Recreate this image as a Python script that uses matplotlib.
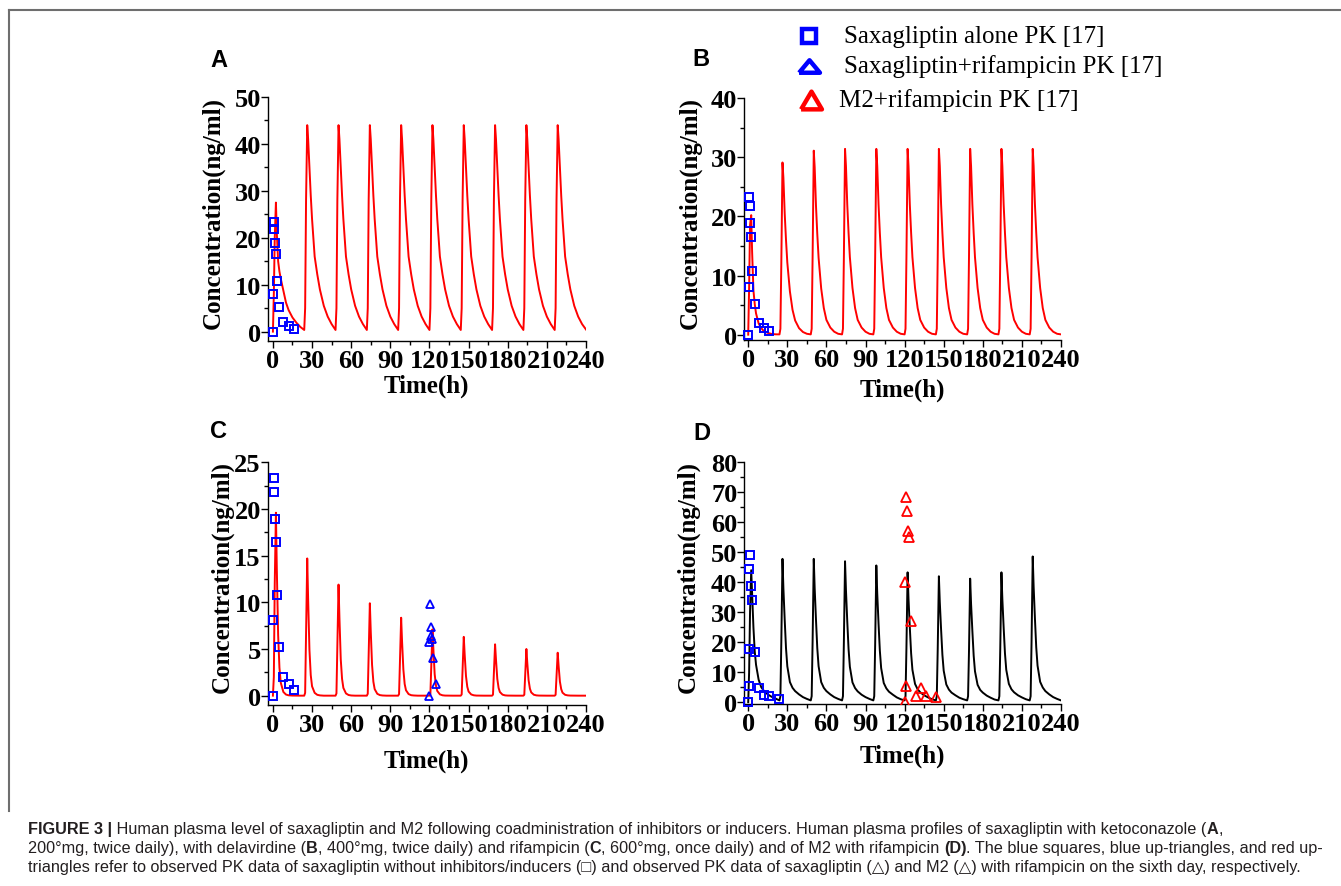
import matplotlib
matplotlib.use('Agg')
import matplotlib.pyplot as plt
from matplotlib.ticker import MultipleLocator
from matplotlib.lines import Line2D
from matplotlib.path import Path
import numpy as np

plt.rcParams['font.family'] = ['Liberation Serif', 'DejaVu Serif']
plt.rcParams['font.weight'] = 'bold'

W, H = 1341, 887

# ---- data ----
dose_times = [0, 24, 48, 72, 96, 120, 144, 168, 192, 216]
rel_t = [0, 0.7, 1.4, 2.3, 3, 4, 5, 6, 8, 10, 12, 15, 18, 21]

# A: ketoconazole
A_first = [0, 8, 20, 27.5, 21, 15, 12.8, 11.3, 8.8, 6.2, 4.6, 3.0, 1.9, 1.0]
A_steady = [0.35, 5, 28, 44, 41, 35, 29, 24, 16, 12.2, 9.0, 5.5, 3.2, 1.6]
A_rows = [A_first] + [A_steady] * 9
A_end = 0.45

# B: delavirdine
B_rows = [
    [0, 8, 18.5, 20.2, 14, 7.5, 5.2, 3.6, 1.9, 1.1, 0.6, 0.3, 0.12, 0.06],
    [0.05, 1, 12, 29.1, 26.5, 20.5, 16, 12.2, 7.3, 4.2, 2.4, 1.1, 0.45, 0.15],
    [0.05, 1, 13, 31.1, 28.3, 21.8, 17, 13, 7.8, 4.5, 2.5, 1.2, 0.5, 0.15],
] + [[0.05, 1, 13, 31.4, 28.5, 22, 17.2, 13.1, 7.9, 4.5, 2.5, 1.2, 0.5, 0.15]] * 7
B_end = 0.05

# C: rifampicin, saxagliptin
C_rows = [
    [0, 2, 12, 19.6, 13.5, 6.5, 3.0, 1.4, 0.4, 0.12, 0.04, 0.01, 0, 0],
    [0, 0.3, 6.6, 14.7, 10.3, 4.9, 2.2, 1.0, 0.3, 0.09, 0.03, 0, 0, 0],
    [0, 0.24, 5.4, 11.9, 8.3, 3.9, 1.8, 0.83, 0.24, 0.07, 0.02, 0, 0, 0],
    [0, 0.2, 4.5, 9.9, 6.9, 3.3, 1.5, 0.7, 0.2, 0.06, 0.02, 0, 0, 0],
    [0, 0.17, 3.8, 8.35, 5.8, 2.8, 1.25, 0.58, 0.17, 0.05, 0.02, 0, 0, 0],
    [0, 0.14, 3.2, 7.1, 5.0, 2.3, 1.07, 0.5, 0.14, 0.04, 0.01, 0, 0, 0],
    [0, 0.13, 2.8, 6.3, 4.4, 2.1, 0.95, 0.44, 0.13, 0.04, 0.01, 0, 0, 0],
    [0, 0.11, 2.5, 5.5, 3.85, 1.8, 0.83, 0.39, 0.11, 0.03, 0.01, 0, 0, 0],
    [0, 0.1, 2.25, 5.0, 3.5, 1.65, 0.75, 0.35, 0.1, 0.03, 0.01, 0, 0, 0],
    [0, 0.09, 2.1, 4.6, 3.2, 1.5, 0.7, 0.32, 0.09, 0.03, 0.01, 0, 0, 0],
]
C_end = 0

# D: rifampicin, M2
D_rows = [
    [0, 10, 30, 44, 36, 25, 17, 12.5, 7.5, 5.0, 3.8, 2.6, 1.8, 1.2],
    [0.6, 2, 20, 47.8, 38, 27.5, 18, 12, 6.7, 4.8, 3.7, 2.6, 1.7, 1.1],
    [0.6, 2, 20, 47.8, 38, 27.5, 18, 12, 6.7, 4.8, 3.7, 2.6, 1.7, 1.1],
    [0.6, 2, 20, 47.0, 37.4, 27, 17.7, 11.8, 6.6, 4.7, 3.6, 2.5, 1.7, 1.1],
    [0.6, 2, 19, 45.6, 36.3, 26.2, 17.2, 11.4, 6.4, 4.6, 3.5, 2.5, 1.6, 1.0],
    [0.6, 2, 18, 43.3, 34.4, 24.9, 16.3, 10.8, 6.1, 4.3, 3.3, 2.3, 1.6, 1.0],
    [0.6, 2, 17.5, 42.0, 33.4, 24.2, 15.8, 10.5, 5.9, 4.2, 3.2, 2.3, 1.5, 1.0],
    [0.6, 2, 17, 41.2, 32.8, 23.7, 15.5, 10.3, 5.8, 4.1, 3.2, 2.2, 1.5, 0.9],
    [0.6, 2, 18, 43.3, 34.4, 24.9, 16.3, 10.8, 6.1, 4.3, 3.3, 2.3, 1.6, 1.0],
    [0.6, 2, 20, 48.6, 38.6, 27.9, 18.3, 12.2, 6.8, 4.9, 3.7, 2.6, 1.7, 1.1],
]
D_end = 0.6

# observed data
sax_t = [0, 0.25, 0.5, 1, 1.5, 2, 3, 5, 8, 12, 16]
sax_c = [0, 8.1, 23.3, 21.8, 18.9, 16.5, 10.8, 5.2, 2.05, 1.2, 0.6]
saxrif_t = [119.5, 119.7, 120.5, 121, 121.3, 122.2, 123, 125]
saxrif_c = [0, 5.8, 9.85, 7.35, 6.35, 6.1, 4.0, 1.2]
m2_t = [0, 0.25, 0.4, 0.75, 1.5, 2, 3, 5.5, 8, 12, 16, 24]
m2_c = [0, 5.5, 17.6, 44.4, 49.1, 38.9, 34, 16.7, 4.7, 2.4, 2.0, 1.0]
m2rif_t = [120.5, 120.5, 120.8, 121.3, 121.8, 122.3, 123.3, 125.1, 128.5, 132.3, 136.1, 144]
m2rif_c = [0, 40, 5.3, 68.3, 63.9, 57, 55, 27.1, 2.0, 4.7, 2.2, 1.6]


def build_curve(rows, end_val):
    t, c = [], []
    for d, row in zip(dose_times, rows):
        t.extend(d + r for r in rel_t)
        c.extend(row)
    t.append(240)
    c.append(end_val)
    return t, c


def px_box(left, top, right, bottom):
    return [left / W, 1 - bottom / H, (right - left) / W, (bottom - top) / H]


fig = plt.figure(figsize=(13.41, 8.87), dpi=100)


def make_axes(box, xlo, ylo, yhi, ystep, yminor, ylab_x, xlab_y):
    ax = fig.add_axes(box)
    ax.set_xlim(xlo, 240)
    ax.set_ylim(ylo, yhi)
    ax.set_xticks(range(0, 241, 30))
    ax.xaxis.set_minor_locator(MultipleLocator(15))
    ax.set_yticks(np.arange(0, yhi + 0.1, ystep))
    ax.yaxis.set_minor_locator(MultipleLocator(yminor))
    for s in ['top', 'right']:
        ax.spines[s].set_visible(False)
    for s in ['left', 'bottom']:
        ax.spines[s].set_linewidth(1.0)
    ax.tick_params(which='major', direction='out', length=5, width=1, pad=1, labelsize=19)
    ax.tick_params(which='minor', direction='out', length=3, width=1)
    ax.tick_params(axis='y', pad=0)
    ax.set_ylabel('Concentration(ng/ml)', fontsize=18, fontweight='bold', va='center')
    ax.yaxis.set_label_coords(ylab_x, 0.53)
    ax.set_xlabel('Time(h)', fontsize=18, fontweight='bold')
    ax.xaxis.set_label_coords(0.5, xlab_y)
    return ax


sq = dict(marker='s', ls='none', mfc='none', mec='#0000ff', ms=5.5, mew=1.4, zorder=5, clip_on=False)

# A
axA = make_axes(px_box(267.7, 98, 586, 342), -4, -2, 50, 10, 5, -0.172, -0.135)
t, c = build_curve(A_rows, A_end)
axA.plot(t, c, color='#ff0000', lw=1.4)
axA.plot(sax_t, sax_c, **sq)

# B
axB = make_axes(px_box(744.3, 99, 1061, 340.7), -3, -0.85, 40, 10, 5, -0.171, -0.155)
t, c = build_curve(B_rows, B_end)
axB.plot(t, c, color='#ff0000', lw=1.4)
axB.plot(sax_t, sax_c, **sq)

# C
axC = make_axes(px_box(267.7, 463.3, 586, 706), -4, -1, 25, 5, 2.5, -0.144, -0.18)
t, c = build_curve(C_rows, C_end)
axC.plot(t, c, color='#ff0000', lw=1.4)
axC.plot(sax_t, sax_c, **sq)
axC.plot(saxrif_t, saxrif_c, marker='^', ls='none', mfc='none', mec='#0000ff',
         ms=6, mew=1.3, zorder=5)

# D
axD = make_axes(px_box(744.3, 463.3, 1061, 705), -3, -0.6, 80, 10, 5, -0.178, -0.165)
t, c = build_curve(D_rows, D_end)
axD.plot(t, c, color='black', lw=1.4)
axD.plot(m2_t, m2_c, **sq)
axD.plot(m2rif_t, m2rif_c, marker='^', ls='none', mfc='none', mec='#ff0000',
         ms=7, mew=1.3, zorder=5)

# panel letters
for letter, (x, y) in zip('ABCD', [(219, 61), (701, 59), (218.5, 432), (701.5, 434)]):
    fig.text(x / W, 1 - y / H, letter, fontsize=17, fontweight='bold',
             family='Liberation Sans', ha='center', va='center')

# legend (figure level)
tri_flat = Path([(-1, -0.6), (1, -0.6), (0, 0.6), (-1, -0.6)])
tri_tall = Path([(-1, -0.85), (1, -0.85), (0, 0.85), (-1, -0.85)])
legend_items = [
    ('s', '#0000ff', 10, 3.2, 809, 37, 844, 'Saxagliptin alone PK [17]'),
    (tri_flat, '#0000ff', 15, 3.2, 809, 67, 844, 'Saxagliptin+rifampicin PK [17]'),
    (tri_tall, '#ff0000', 15, 3.2, 811, 101, 839, 'M2+rifampicin PK [17]'),
]
for mk, col, ms, mew, mx, my, tx, label in legend_items:
    fig.add_artist(Line2D([mx / W], [1 - my / H], marker=mk, ls='none', mfc='none',
                          mec=col, ms=ms, mew=mew, transform=fig.transFigure))
    fig.text(tx / W, 1 - my / H, label, fontsize=18, fontweight='normal',
             ha='left', va='center')

# frame lines
fig.add_artist(Line2D([9 / W, 1], [1 - 10.5 / H] * 2, color='#6e6e6e', lw=1.5,
                      transform=fig.transFigure))
fig.add_artist(Line2D([9 / W, 9 / W], [1 - 10.5 / H, 1 - 812 / H], color='#6e6e6e', lw=1.5,
                      transform=fig.transFigure))

# caption
renderer = fig.canvas.get_renderer()
cap_font = ['Liberation Sans', 'DejaVu Sans']
cap_size = 11.7


def text_width(s, weight):
    a = fig.text(0, 0, 'x' + s + 'x', fontsize=cap_size, family=cap_font, fontweight=weight)
    b = fig.text(0, 0, 'xx', fontsize=cap_size, family=cap_font, fontweight=weight)
    w = a.get_window_extent(renderer).width - b.get_window_extent(renderer).width
    a.remove()
    b.remove()
    return w


def draw_runs(x, y, runs):
    for s, bold in runs:
        weight = 'bold' if bold else 'normal'
        fig.text(x / W, 1 - y / H, s, fontsize=cap_size, family=cap_font,
                 fontweight=weight, color='#231f20', ha='left', va='baseline')
        x += text_width(s, weight)


caption = [
    (834, [("FIGURE 3 |", True),
           (" Human plasma level of saxagliptin and M2 following coadministration of inhibitors or inducers. "
            "Human plasma profiles of saxagliptin with ketoconazole (", False),
           ("A", True), (",", False)]),
    (853, [("200\u00b0mg, twice daily), with delavirdine (", False), ("B", True),
           (", 400\u00b0mg, twice daily) and rifampicin (", False), ("C", True),
           (", 600\u00b0mg, once daily) and of M2 with rifampicin ", False), ("(D)", True),
           (". The blue squares, blue up-triangles, and red up-", False)]),
    (872, [("triangles refer to observed PK data of saxagliptin without inhibitors/inducers (\u25a1) and observed "
            "PK data of saxagliptin (\u25b3) and M2 (\u25b3) with rifampicin on the sixth day, respectively.", False)]),
]
for y, runs in caption:
    draw_runs(28, y, runs)

fig.savefig('out.png', dpi=100)
